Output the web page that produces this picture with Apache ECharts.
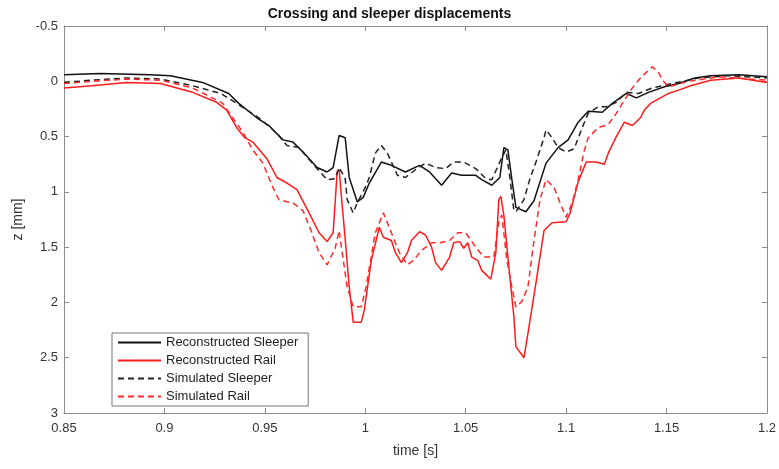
<!DOCTYPE html>
<html>
<head>
<meta charset="utf-8">
<script src="https://cdn.jsdelivr.net/npm/echarts@6/dist/echarts.min.js"></script>
<style>
  html, body { margin: 0; padding: 0; background: #fff; }
  #chart { width: 779px; height: 469px; }
</style>
</head>
<body>
<div id="chart"></div>
<script>
'use strict';

// time [s] and z [mm]
var recSleeperT = [0.85,0.868,0.893,0.903,0.919,0.932,0.937,0.946,0.952,0.959,0.964,0.969,0.976,0.981,0.984,0.987,0.990,0.992,0.996,0.999,1.002,1.008,1.013,1.020,1.027,1.032,1.038,1.043,1.048,1.055,1.058,1.063,1.067,1.069,1.071,1.073,1.075,1.080,1.084,1.090,1.096,1.101,1.106,1.111,1.118,1.123,1.130,1.135,1.141,1.149,1.156,1.164,1.172,1.186,1.2];
var recSleeperZ = [-0.06,-0.07,-0.06,-0.05,0.01,0.11,0.2,0.33,0.4,0.53,0.55,0.64,0.78,0.82,0.78,0.49,0.51,0.87,1.09,1.05,0.92,0.73,0.76,0.82,0.76,0.82,0.94,0.83,0.85,0.85,0.89,0.94,0.87,0.6,0.62,0.89,1.14,1.18,1.08,0.74,0.6,0.53,0.37,0.27,0.28,0.2,0.11,0.15,0.1,0.05,0.02,-0.03,-0.05,-0.06,-0.04];

var recRailT = [0.85,0.864,0.881,0.898,0.914,0.926,0.931,0.936,0.940,0.944,0.951,0.956,0.961,0.966,0.972,0.977,0.981,0.984,0.986,0.987,0.9885,0.9905,0.992,0.994,0.998,0.9995,1.003,1.007,1.009,1.013,1.015,1.018,1.021,1.023,1.027,1.030,1.033,1.035,1.038,1.042,1.044,1.047,1.049,1.051,1.053,1.056,1.058,1.0625,1.065,1.0665,1.0675,1.069,1.0715,1.074,1.075,1.079,1.081,1.085,1.089,1.093,1.100,1.102,1.106,1.110,1.115,1.119,1.121,1.125,1.129,1.133,1.137,1.139,1.142,1.147,1.151,1.156,1.162,1.172,1.186,1.2];
var recRailZ = [0.06,0.04,0.01,0.02,0.1,0.19,0.26,0.42,0.51,0.55,0.7,0.87,0.92,0.98,1.19,1.37,1.45,1.37,0.82,0.8,1.12,1.53,1.86,2.18,2.18,2.07,1.62,1.32,1.41,1.44,1.55,1.64,1.55,1.44,1.36,1.39,1.5,1.64,1.71,1.59,1.46,1.45,1.51,1.46,1.59,1.62,1.71,1.79,1.55,1.07,1.04,1.21,1.68,2.13,2.4,2.5,2.28,1.82,1.35,1.28,1.27,1.19,0.91,0.73,0.73,0.75,0.65,0.5,0.37,0.4,0.33,0.26,0.2,0.15,0.11,0.08,0.04,-0.01,-0.03,0.01];

var simSleeperT = [0.85,0.864,0.881,0.898,0.914,0.928,0.936,0.947,0.956,0.961,0.967,0.976,0.981,0.985,0.987,0.990,0.991,0.994,0.996,1.000,1.002,1.005,1.008,1.011,1.016,1.020,1.025,1.030,1.035,1.040,1.044,1.049,1.055,1.060,1.063,1.068,1.070,1.072,1.074,1.075,1.079,1.082,1.085,1.089,1.090,1.093,1.096,1.100,1.104,1.108,1.111,1.116,1.120,1.125,1.130,1.136,1.143,1.153,1.166,1.181,1.2];
var simSleeperZ = [0.01,-0.01,-0.03,-0.02,0.04,0.11,0.2,0.33,0.47,0.58,0.6,0.79,0.89,0.88,0.78,0.88,1.07,1.19,1.1,0.96,0.87,0.65,0.58,0.65,0.85,0.87,0.8,0.74,0.78,0.79,0.73,0.73,0.79,0.88,0.89,0.69,0.62,0.87,1.17,1.18,1.07,0.88,0.73,0.51,0.44,0.51,0.6,0.64,0.61,0.42,0.29,0.23,0.23,0.19,0.1,0.11,0.06,0.02,-0.03,-0.05,-0.03];

var simRailT = [0.85,0.864,0.881,0.898,0.914,0.926,0.929,0.934,0.939,0.944,0.949,0.954,0.957,0.961,0.964,0.969,0.973,0.977,0.981,0.985,0.987,0.9885,0.991,0.994,0.998,1.0004,1.005,1.009,1.013,1.017,1.021,1.024,1.028,1.033,1.037,1.042,1.046,1.050,1.055,1.059,1.064,1.0665,1.068,1.0705,1.073,1.075,1.078,1.081,1.084,1.087,1.090,1.094,1.097,1.100,1.103,1.106,1.109,1.111,1.116,1.121,1.125,1.129,1.133,1.137,1.141,1.143,1.146,1.148,1.151,1.161,1.176,1.2];
var simRailZ = [0.02,0.0,-0.02,-0.01,0.06,0.17,0.2,0.33,0.46,0.62,0.74,0.96,1.07,1.09,1.1,1.17,1.35,1.55,1.66,1.51,1.35,1.55,1.86,2.04,2.04,1.86,1.37,1.19,1.37,1.55,1.66,1.62,1.53,1.46,1.46,1.44,1.37,1.37,1.5,1.59,1.59,1.27,1.21,1.62,1.86,2.04,1.99,1.86,1.44,1.07,0.89,0.96,1.1,1.23,1.1,0.89,0.63,0.51,0.42,0.39,0.29,0.17,0.06,-0.03,-0.1,-0.13,-0.08,-0.01,0.05,0.0,-0.04,-0.01];

var seriesNames = ['Reconstructed Sleeper', 'Reconstructed Rail', 'Simulated Sleeper', 'Simulated Rail'];

function pairs(t, z) {
  return t.map(function (v, i) { return [v, z[i]]; });
}

var font = 'Liberation Sans, Arial, sans-serif';
var axisGrey = '#8c8c8c';
var textCol = '#333';

function xAx(pos, show) {
  return {
    type: 'value', position: pos, min: 0.85, max: 1.2, interval: 0.05,
    name: show ? 'time [s]' : '', nameLocation: 'middle', nameGap: 31,
    nameTextStyle: { fontFamily: font, fontSize: 14, color: textCol },
    axisLine: { show: true, onZero: false, lineStyle: { color: axisGrey, width: 1 } },
    axisTick: { show: true, inside: true, length: 5, lineStyle: { color: axisGrey } },
    axisLabel: { show: show, fontFamily: font, fontSize: 13, color: textCol, margin: 9 },
    splitLine: { show: false }
  };
}

function yAx(pos, show) {
  return {
    type: 'value', position: pos, inverse: true, min: -0.5, max: 3, interval: 0.5,
    name: show ? 'z [mm]' : '', nameLocation: 'middle', nameGap: 32,
    nameTextStyle: { fontFamily: font, fontSize: 14, color: textCol },
    axisLine: { show: true, onZero: false, lineStyle: { color: axisGrey, width: 1 } },
    axisTick: { show: true, inside: true, length: 5, lineStyle: { color: axisGrey } },
    axisLabel: { show: show, fontFamily: font, fontSize: 13, color: textCol, margin: 6 },
    splitLine: { show: false }
  };
}

function line(name, data, color, dashed) {
  return {
    name: name, type: 'line', data: data, symbol: 'none', smooth: false,
    xAxisIndex: 0, yAxisIndex: 0, animation: false,
    lineStyle: { color: color, width: 1.5, type: dashed ? [6, 4] : 'solid' },
    itemStyle: { color: color }
  };
}

var myChart = echarts.init(document.getElementById('chart'));
var option = {
  backgroundColor: '#fff',
  animation: false,
  title: {
    text: 'Crossing and sleeper displacements',
    left: 'center', top: 2,
    textStyle: { fontFamily: font, fontSize: 14, fontWeight: 'bold', color: '#111' }
  },
  grid: { left: 64, right: 10, top: 26, bottom: 56, containLabel: false },
  legend: {
    data: seriesNames,
    orient: 'vertical',
    left: 112, top: 333,
    itemWidth: 43, itemHeight: 14, itemGap: 5,
    padding: [3, 10, 3, 5],
    borderColor: '#777', borderWidth: 1,
    backgroundColor: '#fff',
    itemStyle: { opacity: 0 },
    textStyle: { fontFamily: font, fontSize: 13, color: '#222' }
  },
  xAxis: [xAx('bottom', true), xAx('top', false)],
  yAxis: [yAx('left', true), yAx('right', false)],
  series: [
    line(seriesNames[0], pairs(recSleeperT, recSleeperZ), '#111111', false),
    line(seriesNames[1], pairs(recRailT, recRailZ), '#ff1a1a', false),
    line(seriesNames[2], pairs(simSleeperT, simSleeperZ), '#222222', true),
    line(seriesNames[3], pairs(simRailT, simRailZ), '#ff2a2a', true)
  ]
};
myChart.setOption(option);
</script>
</body>
</html>
